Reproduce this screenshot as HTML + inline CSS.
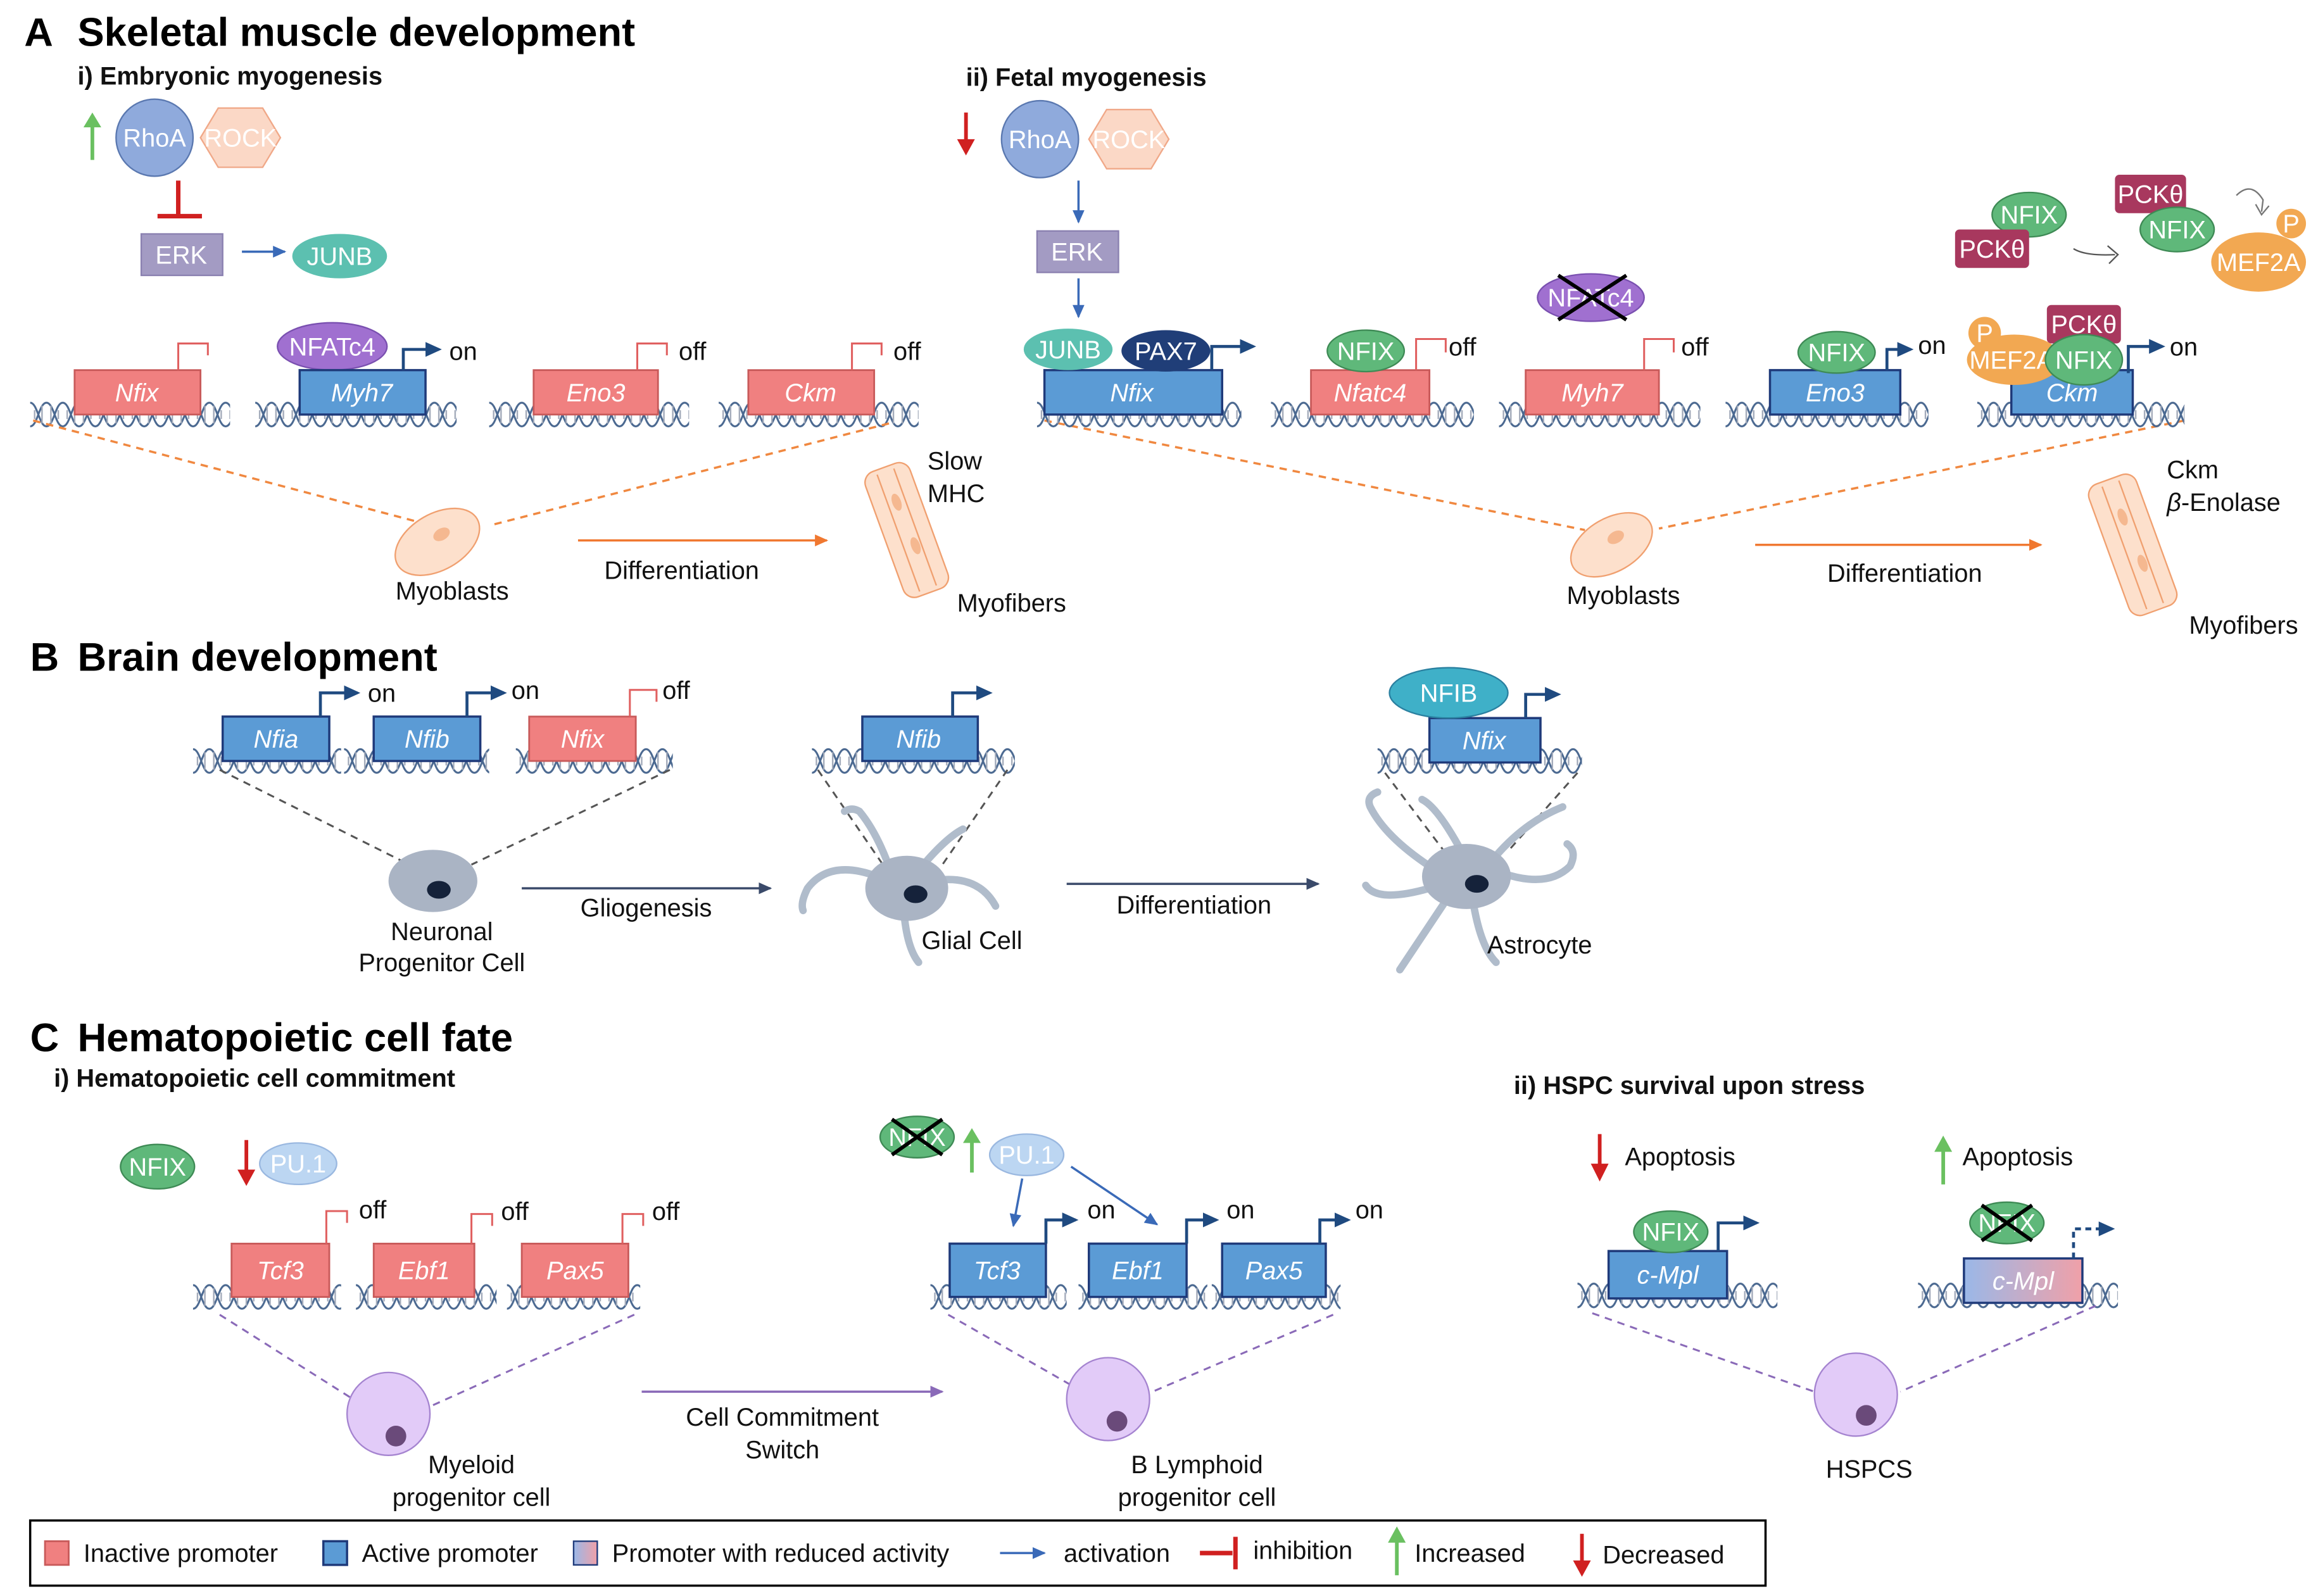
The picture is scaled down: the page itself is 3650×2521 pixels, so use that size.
<!DOCTYPE html>
<html><head><meta charset="utf-8"><style>
html,body{margin:0;padding:0;background:#fff;}
svg{display:block;}
text{font-family:"Liberation Sans",sans-serif;}
.t{font-size:17px;fill:#111;}
.b{font-weight:bold;}
.w{fill:#fff;font-size:17px;}
.g{font-style:italic;fill:#fff;font-size:17px;}
.red{fill:#f08080;stroke:#c85a5a;stroke-width:1.2;}
.blu{fill:#5b9bd5;stroke:#1f3a7a;stroke-width:1.5;}
.nf{fill:#5fb87a;stroke:#3e8a55;stroke-width:1;}
.gu{stroke:#6ac060;stroke-width:2.5;}
.rd{stroke:#d02020;stroke-width:2.5;}
</style></head><body>
<svg width="3650" height="2521" viewBox="0 0 1560 1078" xmlns="http://www.w3.org/2000/svg">
<defs>
<pattern id="dna" patternUnits="userSpaceOnUse" width="22" height="24">
<path d="M0,4 C5,4 6,20 11,20 C16,20 17,4 22,4" fill="none" stroke="#4a6890" stroke-width="1.3"/>
<path d="M0,20 C5,20 6,4 11,4 C16,4 17,20 22,20" fill="none" stroke="#4a6890" stroke-width="1.3"/>
<path d="M3,9V15M8,6V18M14,6V18M19,9V15" stroke="#a0a8b8" stroke-width="1"/>
</pattern>
<linearGradient id="grad" x1="0" x2="1"><stop offset="0" stop-color="#9ab8e8"/><stop offset="1" stop-color="#f0a0a8"/></linearGradient>
<marker id="ab" markerWidth="10" markerHeight="10" refX="8" refY="5" orient="auto" markerUnits="userSpaceOnUse"><path d="M0,1L9,5L0,9z" fill="#3a6ab8"/></marker>
<marker id="an" markerWidth="12" markerHeight="12" refX="9" refY="6" orient="auto" markerUnits="userSpaceOnUse"><path d="M0,1L11,6L0,11z" fill="#1f4a80"/></marker>
<marker id="ao" markerWidth="10" markerHeight="10" refX="8" refY="5" orient="auto" markerUnits="userSpaceOnUse"><path d="M0,1L9,5L0,9z" fill="#f07830"/></marker>
<marker id="ad" markerWidth="10" markerHeight="10" refX="8" refY="5" orient="auto" markerUnits="userSpaceOnUse"><path d="M0,1L9,5L0,9z" fill="#3a4a6a"/></marker>
<marker id="ap" markerWidth="10" markerHeight="10" refX="8" refY="5" orient="auto" markerUnits="userSpaceOnUse"><path d="M0,1L9,5L0,9z" fill="#8a6ab8"/></marker>
</defs>

<!-- ===== A ===== -->
<text x="16" y="31" font-size="27" class="b">A</text>
<text x="52" y="31" font-size="27" class="b">Skeletal muscle development</text>
<text x="52" y="57" class="t b">i) Embryonic myogenesis</text>

<line x1="62" y1="108" x2="62" y2="84" class="gu"/><polygon points="56,86 62,76 68,86" fill="#6ac060"/>
<polygon points="135,93 147,73 177,73 189,93 177,113 147,113" fill="#fbd8c6" stroke="#f0a888"/>
<text x="162" y="99" class="w" text-anchor="middle">ROCK</text>
<circle cx="104" cy="93" r="26" fill="#8faadc" stroke="#5a78b0"/>
<text x="104" y="99" class="w" text-anchor="middle">RhoA</text>
<path d="M120,122V146M106,146H136" stroke="#d02020" stroke-width="3" fill="none"/>
<rect x="95" y="158" width="55" height="28" fill="#a39bc3" stroke="#8a80b0"/>
<text x="122" y="178" class="w" text-anchor="middle">ERK</text>
<line x1="163" y1="170" x2="192" y2="170" stroke="#3a6ab8" stroke-width="1.5" marker-end="url(#ab)"/>
<ellipse cx="229" cy="173" rx="32" ry="15" fill="#5cc0b0"/>
<text x="229" y="179" class="w" text-anchor="middle">JUNB</text>

<g fill="url(#dna)">
<g transform="translate(20,268)"><rect width="135" height="24"/></g>
<g transform="translate(172,268)"><rect width="136" height="24"/></g>
<g transform="translate(330,268)"><rect width="135" height="24"/></g>
<g transform="translate(485,268)"><rect width="135" height="24"/></g>
</g>
<rect x="50" y="250" width="85" height="30" class="red"/><text x="92" y="271" class="g" text-anchor="middle">Nfix</text>
<path d="M120,250V232H140V240" stroke="#e06060" fill="none" stroke-width="1.3"/>
<ellipse cx="224" cy="234" rx="37" ry="16" fill="#a070d0" stroke="#7a50b0"/>
<text x="224" y="240" class="w" text-anchor="middle">NFATc4</text>
<rect x="202" y="250" width="85" height="30" class="blu"/><text x="244" y="271" class="g" text-anchor="middle">Myh7</text>
<path d="M272,250V236H296" stroke="#1f4a80" fill="none" stroke-width="2" marker-end="url(#an)"/>
<text x="303" y="243" class="t">on</text>
<rect x="360" y="250" width="84" height="30" class="red"/><text x="402" y="271" class="g" text-anchor="middle">Eno3</text>
<path d="M430,250V232H450V240" stroke="#e06060" fill="none" stroke-width="1.3"/><text x="458" y="243" class="t">off</text>
<rect x="505" y="250" width="85" height="30" class="red"/><text x="547" y="271" class="g" text-anchor="middle">Ckm</text>
<path d="M575,250V232H595V240" stroke="#e06060" fill="none" stroke-width="1.3"/><text x="603" y="243" class="t">off</text>

<g stroke="#f08840" stroke-width="1.5" stroke-dasharray="5,4" fill="none">
<line x1="22" y1="284" x2="280" y2="352"/><line x1="600" y1="286" x2="330" y2="355"/>
<line x1="705" y1="284" x2="1070" y2="358"/><line x1="1475" y1="284" x2="1120" y2="357"/>
</g>
<g transform="translate(295,366) rotate(-30)"><ellipse rx="31" ry="19" fill="#fde0cc" stroke="#f0a070"/><ellipse cx="5" cy="-3" rx="6" ry="4" fill="#f5b890"/></g>
<text x="305" y="405" class="t" text-anchor="middle">Myoblasts</text>
<line x1="390" y1="365" x2="558" y2="365" stroke="#f07830" stroke-width="1.5" marker-end="url(#ao)"/>
<text x="460" y="391" class="t" text-anchor="middle">Differentiation</text>
<g transform="translate(612,358) rotate(-20)"><rect x="-16" y="-45" width="32" height="90" rx="8" fill="#fde0cc" stroke="#f0a070"/><line x1="-6" y1="-42" x2="-6" y2="42" stroke="#f0a070"/><line x1="6" y1="-42" x2="6" y2="42" stroke="#f0a070"/><ellipse cx="0" cy="-20" rx="3" ry="6" fill="#f5b890"/><ellipse cx="2" cy="12" rx="3" ry="6" fill="#f5b890"/></g>
<text x="626" y="317" class="t">Slow</text><text x="626" y="339" class="t">MHC</text>
<text x="646" y="413" class="t">Myofibers</text>

<!-- ii fetal -->
<text x="652" y="58" class="t b">ii) Fetal myogenesis</text>
<line x1="652" y1="76" x2="652" y2="96" class="rd"/><polygon points="646,94 652,105 658,94" fill="#d02020"/>
<polygon points="735,94 747,74 777,74 789,94 777,114 747,114" fill="#fbd8c6" stroke="#f0a888"/>
<text x="762" y="100" class="w" text-anchor="middle">ROCK</text>
<circle cx="702" cy="94" r="26" fill="#8faadc" stroke="#5a78b0"/>
<text x="702" y="100" class="w" text-anchor="middle">RhoA</text>
<line x1="728" y1="122" x2="728" y2="150" stroke="#3a6ab8" stroke-width="1.5" marker-end="url(#ab)"/>
<rect x="700" y="156" width="55" height="28" fill="#a39bc3" stroke="#8a80b0"/>
<text x="727" y="176" class="w" text-anchor="middle">ERK</text>
<line x1="728" y1="188" x2="728" y2="214" stroke="#3a6ab8" stroke-width="1.5" marker-end="url(#ab)"/>

<g fill="url(#dna)">
<g transform="translate(700,268)"><rect width="138" height="24"/></g>
<g transform="translate(858,268)"><rect width="137" height="24"/></g>
<g transform="translate(1012,268)"><rect width="136" height="24"/></g>
<g transform="translate(1165,268)"><rect width="137" height="24"/></g>
<g transform="translate(1335,268)"><rect width="140" height="24"/></g>
</g>
<rect x="705" y="250" width="120" height="30" class="blu"/><text x="764" y="271" class="g" text-anchor="middle">Nfix</text>
<ellipse cx="721" cy="236" rx="30" ry="14" fill="#5cc0b0"/><text x="721" y="242" class="w" text-anchor="middle">JUNB</text>
<ellipse cx="787" cy="237" rx="30" ry="14" fill="#203e78"/><text x="787" y="243" class="w" text-anchor="middle">PAX7</text>
<path d="M818,250V234H846" stroke="#1f4a80" fill="none" stroke-width="2" marker-end="url(#an)"/>
<rect x="885" y="250" width="80" height="30" class="red"/><text x="925" y="271" class="g" text-anchor="middle">Nfatc4</text>
<ellipse cx="922" cy="237" rx="26" ry="14" class="nf"/><text x="922" y="243" class="w" text-anchor="middle">NFIX</text>
<path d="M956,250V229H976V238" stroke="#e06060" fill="none" stroke-width="1.3"/><text x="978" y="240" class="t">off</text>
<ellipse cx="1074" cy="201" rx="36" ry="16" fill="#a070d0" stroke="#7a50b0"/><text x="1074" y="207" class="w" text-anchor="middle">NFATc4</text>
<path d="M1052,186L1098,216M1098,186L1052,216" stroke="#000" stroke-width="2.5"/>
<rect x="1030" y="250" width="90" height="30" class="red"/><text x="1075" y="271" class="g" text-anchor="middle">Myh7</text>
<path d="M1110,250V229H1130V238" stroke="#e06060" fill="none" stroke-width="1.3"/><text x="1135" y="240" class="t">off</text>
<rect x="1195" y="250" width="88" height="30" class="blu"/><text x="1239" y="271" class="g" text-anchor="middle">Eno3</text>
<ellipse cx="1240" cy="238" rx="26" ry="14" class="nf"/><text x="1240" y="244" class="w" text-anchor="middle">NFIX</text>
<path d="M1274,250V236H1290" stroke="#1f4a80" fill="none" stroke-width="2" marker-end="url(#an)"/><text x="1295" y="239" class="t">on</text>

<rect x="1358" y="250" width="82" height="30" class="blu"/><text x="1399" y="271" class="g" text-anchor="middle">Ckm</text>
<rect x="1382" y="206" width="50" height="26" rx="3" fill="#a8385e"/><text x="1407" y="225" class="w" text-anchor="middle">PCKθ</text>
<ellipse cx="1360" cy="243" rx="32" ry="17" fill="#f2a852"/><text x="1358" y="249" class="w" text-anchor="middle">MEF2A</text>
<circle cx="1340" cy="225" r="11" fill="#f2a852"/><text x="1340" y="231" class="w" text-anchor="middle">P</text>
<ellipse cx="1407" cy="243" rx="26" ry="17" class="nf"/><text x="1407" y="249" class="w" text-anchor="middle">NFIX</text>
<path d="M1437,252V234H1460" stroke="#1f4a80" fill="none" stroke-width="2" marker-end="url(#an)"/><text x="1465" y="240" class="t">on</text>

<ellipse cx="1370" cy="145" rx="25" ry="15" class="nf"/><text x="1370" y="151" class="w" text-anchor="middle">NFIX</text>
<rect x="1320" y="155" width="50" height="26" rx="3" fill="#a8385e"/><text x="1345" y="174" class="w" text-anchor="middle">PCKθ</text>
<path d="M1400,168Q1408,173 1428,172M1423,166L1430,172L1424,178" stroke="#555" fill="none"/>
<rect x="1428" y="118" width="48" height="26" rx="3" fill="#a8385e"/><text x="1452" y="137" class="w" text-anchor="middle">PCKθ</text>
<ellipse cx="1470" cy="155" rx="25" ry="15" class="nf"/><text x="1470" y="161" class="w" text-anchor="middle">NFIX</text>
<path d="M1510,132Q1520,122 1528,135L1527,143M1523,138L1527,145L1532,139" stroke="#777" fill="none"/>
<ellipse cx="1525" cy="177" rx="32" ry="20" fill="#f2a852"/><text x="1525" y="183" class="w" text-anchor="middle">MEF2A</text>
<circle cx="1547" cy="151" r="10" fill="#f2a852"/><text x="1547" y="157" class="w" text-anchor="middle">P</text>

<g transform="translate(1088,368) rotate(-30)"><ellipse rx="30" ry="18" fill="#fde0cc" stroke="#f0a070"/><ellipse cx="5" cy="-3" rx="6" ry="4" fill="#f5b890"/></g>
<text x="1096" y="408" class="t" text-anchor="middle">Myoblasts</text>
<line x1="1185" y1="368" x2="1378" y2="368" stroke="#f07830" stroke-width="1.5" marker-end="url(#ao)"/>
<text x="1286" y="393" class="t" text-anchor="middle">Differentiation</text>
<g transform="translate(1440,368) rotate(-20)"><rect x="-17" y="-47" width="34" height="94" rx="8" fill="#fde0cc" stroke="#f0a070"/><line x1="-6" y1="-44" x2="-6" y2="44" stroke="#f0a070"/><line x1="6" y1="-44" x2="6" y2="44" stroke="#f0a070"/><ellipse cx="0" cy="-20" rx="3" ry="6" fill="#f5b890"/><ellipse cx="2" cy="14" rx="3" ry="6" fill="#f5b890"/></g>
<text x="1463" y="323" class="t">Ckm</text><text x="1463" y="345" class="t" font-style="italic">β<tspan font-style="normal">-Enolase</tspan></text>
<text x="1478" y="428" class="t">Myofibers</text>

<!-- ===== B ===== -->
<text x="20" y="453" font-size="27" class="b">B</text>
<text x="52" y="453" font-size="27" class="b">Brain development</text>
<g fill="url(#dna)">
<g transform="translate(130,502)"><rect width="100" height="24"/></g>
<g transform="translate(232,502)"><rect width="98" height="24"/></g>
<g transform="translate(348,502)"><rect width="106" height="24"/></g>
<g transform="translate(548,502)"><rect width="137" height="24"/></g>
<g transform="translate(930,502)"><rect width="138" height="24"/></g>
</g>
<rect x="150" y="484" width="72" height="30" class="blu"/><text x="186" y="505" class="g" text-anchor="middle">Nfia</text>
<path d="M216,484V468H241" stroke="#1f4a80" fill="none" stroke-width="2" marker-end="url(#an)"/><text x="248" y="474" class="t">on</text>
<rect x="252" y="484" width="72" height="30" class="blu"/><text x="288" y="505" class="g" text-anchor="middle">Nfib</text>
<path d="M315,484V468H340" stroke="#1f4a80" fill="none" stroke-width="2" marker-end="url(#an)"/><text x="345" y="472" class="t">on</text>
<rect x="357" y="484" width="72" height="30" class="red"/><text x="393" y="505" class="g" text-anchor="middle">Nfix</text>
<path d="M425,484V466H443V474" stroke="#e06060" fill="none" stroke-width="1.3"/><text x="447" y="472" class="t">off</text>
<g stroke="#555" stroke-width="1.3" stroke-dasharray="5,4">
<line x1="148" y1="520" x2="272" y2="582"/><line x1="452" y1="520" x2="318" y2="584"/>
<line x1="552" y1="520" x2="600" y2="590"/><line x1="680" y1="520" x2="632" y2="590"/>
<line x1="935" y1="522" x2="975" y2="575"/><line x1="1065" y1="522" x2="1018" y2="575"/>
</g>
<ellipse cx="292" cy="595" rx="30" ry="21" fill="#aab4c4"/><ellipse cx="296" cy="601" rx="8" ry="6" fill="#15223a"/>
<text x="298" y="635" class="t" text-anchor="middle">Neuronal</text><text x="298" y="656" class="t" text-anchor="middle">Progenitor Cell</text>
<line x1="352" y1="600" x2="520" y2="600" stroke="#3a4a6a" stroke-width="1.5" marker-end="url(#ad)"/>
<text x="436" y="619" class="t" text-anchor="middle">Gliogenesis</text>
<rect x="582" y="484" width="78" height="30" class="blu"/><text x="620" y="505" class="g" text-anchor="middle">Nfib</text>
<path d="M643,484V468H668" stroke="#1f4a80" fill="none" stroke-width="2" marker-end="url(#an)"/>
<g stroke="#b0bccb" stroke-width="5" fill="none" stroke-linecap="round">
<path d="M592,592Q560,580 545,600Q540,610 542,615"/><path d="M630,595Q660,590 672,612"/><path d="M610,615Q612,640 620,650"/><path d="M598,580Q590,560 580,548Q575,545 570,548"/><path d="M625,582Q640,565 650,560"/>
</g>
<ellipse cx="612" cy="600" rx="28" ry="22" fill="#aab4c4"/><ellipse cx="618" cy="604" rx="8" ry="6" fill="#15223a"/>
<text x="622" y="641" class="t">Glial Cell</text>
<line x1="720" y1="597" x2="890" y2="597" stroke="#3a4a6a" stroke-width="1.5" marker-end="url(#ad)"/>
<text x="806" y="617" class="t" text-anchor="middle">Differentiation</text>
<rect x="965" y="485" width="75" height="30" class="blu"/><text x="1002" y="506" class="g" text-anchor="middle">Nfix</text>
<ellipse cx="978" cy="468" rx="40" ry="17" fill="#3fb0c8" stroke="#2a80a0"/><text x="978" y="474" class="w" text-anchor="middle">NFIB</text>
<path d="M1030,485V469H1052" stroke="#1f4a80" fill="none" stroke-width="2" marker-end="url(#an)"/>
<g stroke="#b0bccb" stroke-width="5" fill="none" stroke-linecap="round">
<path d="M965,585Q935,565 925,545Q922,538 930,535"/><path d="M965,600Q930,610 922,598"/><path d="M975,610Q955,640 945,655"/><path d="M995,612Q1000,640 1010,650"/><path d="M1015,590Q1045,600 1060,585Q1065,575 1058,570"/><path d="M1010,578Q1030,555 1055,545"/><path d="M985,572Q970,545 960,540"/>
</g>
<ellipse cx="990" cy="592" rx="30" ry="22" fill="#aab4c4"/><ellipse cx="997" cy="597" rx="8" ry="6" fill="#15223a"/>
<text x="1004" y="644" class="t">Astrocyte</text>

<!-- ===== C ===== -->
<text x="20" y="710" font-size="27" class="b">C</text>
<text x="52" y="710" font-size="27" class="b">Hematopoietic cell fate</text>
<text x="36" y="734" class="t b">i) Hematopoietic cell commitment</text>
<ellipse cx="106" cy="788" rx="25" ry="15" class="nf"/><text x="106" y="794" class="w" text-anchor="middle">NFIX</text>
<line x1="166" y1="770" x2="166" y2="792" class="rd"/><polygon points="160,790 166,801 172,790" fill="#d02020"/>
<ellipse cx="201" cy="786" rx="26" ry="14" fill="#bcd6f2" stroke="#9ab8e0"/><text x="201" y="792" class="w" text-anchor="middle">PU.1</text>
<g fill="url(#dna)">
<g transform="translate(130,864)"><rect width="100" height="24"/></g>
<g transform="translate(240,864)"><rect width="95" height="24"/></g>
<g transform="translate(342,864)"><rect width="90" height="24"/></g>
<g transform="translate(628,864)"><rect width="92" height="24"/></g>
<g transform="translate(728,864)"><rect width="87" height="24"/></g>
<g transform="translate(818,864)"><rect width="87" height="24"/></g>
<g transform="translate(1065,863)"><rect width="135" height="24"/></g>
<g transform="translate(1295,863)"><rect width="135" height="24"/></g>
</g>
<rect x="156" y="840" width="66" height="36" class="red"/><text x="189" y="864" class="g" text-anchor="middle">Tcf3</text>
<path d="M220,840V818H234V826" stroke="#e06060" fill="none" stroke-width="1.3"/><text x="242" y="823" class="t">off</text>
<rect x="252" y="840" width="68" height="36" class="red"/><text x="286" y="864" class="g" text-anchor="middle">Ebf1</text>
<path d="M318,840V820H332V828" stroke="#e06060" fill="none" stroke-width="1.3"/><text x="338" y="824" class="t">off</text>
<rect x="352" y="840" width="72" height="36" class="red"/><text x="388" y="864" class="g" text-anchor="middle">Pax5</text>
<path d="M420,840V820H434V828" stroke="#e06060" fill="none" stroke-width="1.3"/><text x="440" y="824" class="t">off</text>
<g stroke="#8a6ab8" stroke-width="1.3" stroke-dasharray="5,4">
<line x1="148" y1="888" x2="238" y2="945"/><line x1="428" y1="888" x2="290" y2="950"/>
<line x1="640" y1="888" x2="722" y2="935"/><line x1="900" y1="888" x2="778" y2="940"/>
<line x1="1075" y1="887" x2="1225" y2="940"/><line x1="1415" y1="882" x2="1283" y2="940"/>
</g>
<circle cx="262" cy="955" r="28" fill="#e2cbf8" stroke="#a584d0"/><circle cx="267" cy="970" r="7" fill="#6a4a7a"/>
<text x="318" y="995" class="t" text-anchor="middle">Myeloid</text><text x="318" y="1017" class="t" text-anchor="middle">progenitor cell</text>
<line x1="433" y1="940" x2="636" y2="940" stroke="#8a6ab8" stroke-width="1.5" marker-end="url(#ap)"/>
<text x="528" y="963" class="t" text-anchor="middle">Cell Commitment</text><text x="528" y="985" class="t" text-anchor="middle">Switch</text>

<ellipse cx="619" cy="768" rx="25" ry="14" class="nf"/><text x="619" y="774" class="w" text-anchor="middle">NFIX</text>
<path d="M602,756L636,780M636,756L602,780" stroke="#000" stroke-width="2.5"/>
<line x1="656" y1="792" x2="656" y2="770" class="gu"/><polygon points="650,772 656,762 662,772" fill="#6ac060"/>
<ellipse cx="693" cy="780" rx="25" ry="14" fill="#bcd6f2" stroke="#9ab8e0"/><text x="693" y="786" class="w" text-anchor="middle">PU.1</text>
<line x1="690" y1="796" x2="684" y2="828" stroke="#3a6ab8" stroke-width="1.5" marker-end="url(#ab)"/>
<line x1="723" y1="788" x2="781" y2="827" stroke="#3a6ab8" stroke-width="1.5" marker-end="url(#ab)"/>
<rect x="641" y="840" width="65" height="36" class="blu"/><text x="673" y="864" class="g" text-anchor="middle">Tcf3</text>
<path d="M706,840V824H726" stroke="#1f4a80" fill="none" stroke-width="2" marker-end="url(#an)"/><text x="734" y="823" class="t">on</text>
<rect x="735" y="840" width="66" height="36" class="blu"/><text x="768" y="864" class="g" text-anchor="middle">Ebf1</text>
<path d="M801,840V824H821" stroke="#1f4a80" fill="none" stroke-width="2" marker-end="url(#an)"/><text x="828" y="823" class="t">on</text>
<rect x="825" y="840" width="70" height="36" class="blu"/><text x="860" y="864" class="g" text-anchor="middle">Pax5</text>
<path d="M891,840V824H910" stroke="#1f4a80" fill="none" stroke-width="2" marker-end="url(#an)"/><text x="915" y="823" class="t">on</text>
<circle cx="748" cy="945" r="28" fill="#e2cbf8" stroke="#a584d0"/><circle cx="754" cy="960" r="7" fill="#6a4a7a"/>
<text x="808" y="995" class="t" text-anchor="middle">B Lymphoid</text><text x="808" y="1017" class="t" text-anchor="middle">progenitor cell</text>

<text x="1022" y="739" class="t b">ii) HSPC survival upon stress</text>
<line x1="1080" y1="766" x2="1080" y2="788" class="rd"/><polygon points="1074,786 1080,798 1086,786" fill="#d02020"/>
<text x="1097" y="787" class="t">Apoptosis</text>
<line x1="1312" y1="800" x2="1312" y2="776" class="gu"/><polygon points="1306,778 1312,767 1318,778" fill="#6ac060"/>
<text x="1325" y="787" class="t">Apoptosis</text>
<rect x="1086" y="845" width="80" height="32" class="blu"/><text x="1126" y="867" class="g" text-anchor="middle">c-Mpl</text>
<ellipse cx="1128" cy="832" rx="25" ry="14" class="nf"/><text x="1128" y="838" class="w" text-anchor="middle">NFIX</text>
<path d="M1160,845V826H1186" stroke="#1f4a80" fill="none" stroke-width="2" marker-end="url(#an)"/>
<rect x="1326" y="850" width="80" height="30" fill="url(#grad)" stroke="#1f3a7a" stroke-width="1.5"/><text x="1366" y="871" class="g" text-anchor="middle">c-Mpl</text>
<ellipse cx="1355" cy="826" rx="25" ry="14" class="nf"/><text x="1355" y="832" class="w" text-anchor="middle">NFIX</text>
<path d="M1338,814L1372,838M1372,814L1338,838" stroke="#000" stroke-width="2.5"/>
<path d="M1400,850V830H1426" stroke="#1f4a80" fill="none" stroke-width="2" stroke-dasharray="4,3" marker-end="url(#an)"/>
<circle cx="1253" cy="942" r="28" fill="#e2cbf8" stroke="#a584d0"/><circle cx="1260" cy="956" r="7" fill="#6a4a7a"/>
<text x="1262" y="998" class="t" text-anchor="middle">HSPCS</text>

<!-- legend -->
<rect x="20" y="1027" width="1172" height="44" fill="none" stroke="#000" stroke-width="1.5"/>
<rect x="30" y="1041" width="16" height="16" class="red"/><text x="56" y="1055" class="t">Inactive promoter</text>
<rect x="218" y="1041" width="16" height="16" class="blu"/><text x="244" y="1055" class="t">Active promoter</text>
<rect x="387" y="1041" width="16" height="16" fill="url(#grad)" stroke="#1f3a7a"/><text x="413" y="1055" class="t">Promoter with reduced activity</text>
<line x1="675" y1="1049" x2="705" y2="1049" stroke="#3a6ab8" stroke-width="1.5" marker-end="url(#ab)"/><text x="718" y="1055" class="t">activation</text>
<path d="M810,1049H832M834,1038V1060" stroke="#d02020" stroke-width="3"/><text x="846" y="1053" class="t">inhibition</text>
<line x1="943" y1="1064" x2="943" y2="1040" class="gu"/><polygon points="937,1042 943,1031 949,1042" fill="#6ac060"/><text x="955" y="1055" class="t">Increased</text>
<line x1="1068" y1="1036" x2="1068" y2="1056" class="rd"/><polygon points="1062,1054 1068,1065 1074,1054" fill="#d02020"/><text x="1082" y="1056" class="t">Decreased</text>
</svg>
</body></html>
